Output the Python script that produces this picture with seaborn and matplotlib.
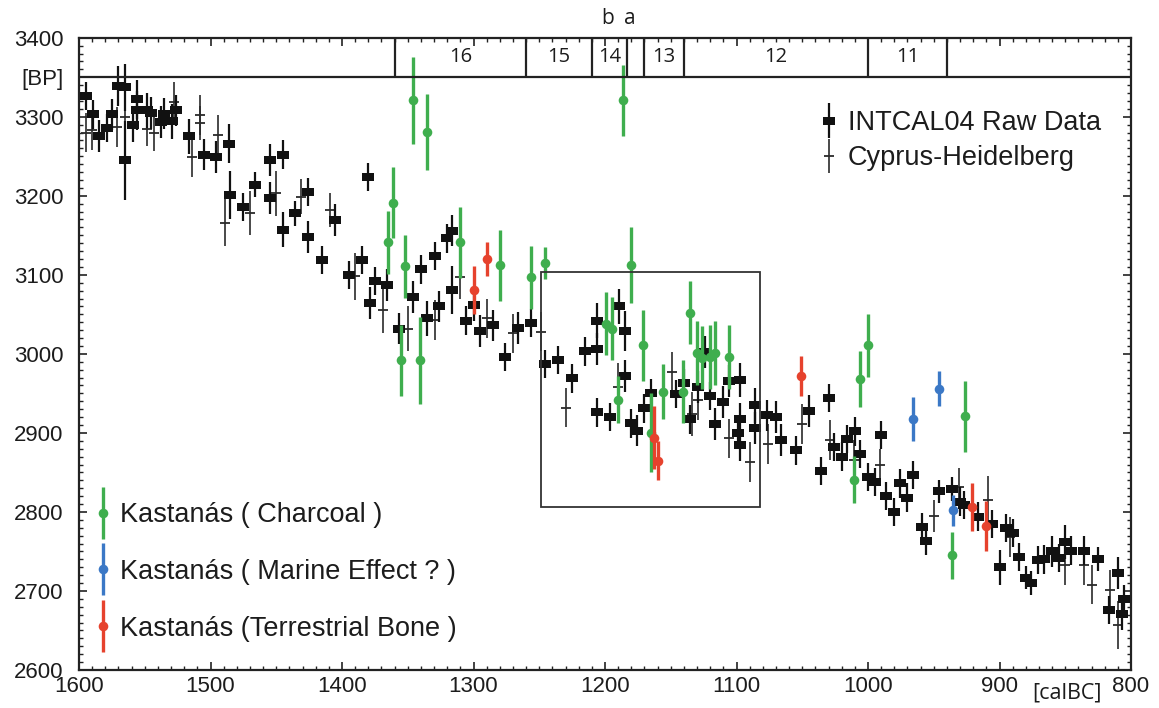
import numpy as np
import pandas as pd
import matplotlib
matplotlib.use("Agg")
import matplotlib.pyplot as plt
import seaborn as sns
from matplotlib.ticker import MultipleLocator, FixedLocator
from matplotlib.legend_handler import HandlerErrorbar, HandlerTuple
from matplotlib.container import ErrorbarContainer
from matplotlib.patches import Rectangle

# ---------------- data ----------------
intcal_year = [1595, 1589, 1585, 1579, 1575, 1570, 1565, 1565, 1559, 1556, 1556, 1548, 1545, 1538, 1535,
               1529, 1526, 1516, 1505, 1496, 1486, 1485, 1475, 1466, 1455, 1455, 1445, 1445, 1436, 1426,
               1426, 1415, 1405, 1395, 1385, 1380, 1379, 1375, 1366, 1357, 1346, 1340, 1335, 1329, 1326,
               1320, 1316, 1316, 1306, 1300, 1295, 1285, 1276, 1266, 1256, 1246, 1236, 1225, 1215, 1206,
               1206, 1206, 1196, 1189, 1185, 1185, 1180, 1176, 1170, 1165, 1146, 1140, 1135, 1129, 1124,
               1120, 1116, 1110, 1106, 1099, 1097, 1097, 1097, 1086, 1086, 1077, 1070, 1066, 1055, 1045,
               1036, 1030, 1026, 1020, 1016, 1010, 1006, 1000, 995, 990, 986, 980, 976, 970, 966,
               959, 956, 946, 936, 930, 927, 916, 906, 900, 895, 890, 885, 880, 876, 871,
               866, 860, 855, 850, 846, 836, 825, 817, 810, 807, 805]
intcal_bp = [3326, 3303, 3276, 3286, 3303, 3339, 3337, 3245, 3290, 3322, 3308, 3308, 3305, 3293, 3304,
             3294, 3308, 3275, 3252, 3249, 3266, 3201, 3186, 3214, 3245, 3197, 3252, 3157, 3178, 3205,
             3148, 3119, 3169, 3100, 3119, 3224, 3064, 3092, 3087, 3032, 3072, 3107, 3045, 3124, 3060,
             3146, 3156, 3081, 3042, 3062, 3029, 3036, 2996, 3033, 3039, 2987, 2992, 2969, 3003, 3006,
             3042, 2926, 2920, 3060, 3029, 2972, 2912, 2903, 2931, 2950, 2949, 2963, 2917, 2958, 3002,
             2947, 2911, 2939, 2966, 2900, 2885, 2918, 2967, 2935, 2906, 2922, 2920, 2891, 2878, 2928,
             2852, 2944, 2882, 2870, 2892, 2902, 2873, 2844, 2838, 2897, 2820, 2800, 2836, 2818, 2847,
             2781, 2763, 2826, 2829, 2813, 2809, 2794, 2785, 2730, 2780, 2773, 2743, 2717, 2710, 2739,
             2740, 2750, 2742, 2762, 2751, 2751, 2740, 2676, 2723, 2671, 2690]
intcal_err = [18, 18, 20, 18, 20, 25, 30, 50, 22, 25, 25, 22, 20, 20, 20,
              22, 20, 22, 20, 20, 25, 30, 18, 16, 20, 20, 18, 22, 16, 18,
              20, 18, 20, 18, 18, 18, 20, 18, 20, 20, 20, 18, 22, 18, 20,
              18, 20, 30, 18, 20, 20, 20, 18, 20, 18, 18, 18, 18, 18, 20,
              22, 18, 18, 22, 25, 20, 18, 20, 18, 18, 18, 18, 18, 20, 20,
              18, 20, 20, 20, 18, 20, 20, 22, 22, 20, 20, 20, 20, 18, 20,
              18, 18, 18, 18, 18, 18, 18, 18, 18, 18, 18, 18, 18, 18, 18,
              18, 18, 15, 15, 18, 18, 18, 18, 22, 18, 18, 18, 15, 15, 18,
              18, 20, 18, 22, 18, 18, 15, 18, 20, 20, 18]

cyprus_year = [1595, 1590, 1571, 1565, 1548, 1543, 1528, 1514, 1508, 1508, 1494, 1489, 1470, 1450, 1431,
               1409, 1390, 1369, 1350, 1329, 1310, 1290, 1270, 1249, 1230, 1190, 1149, 1134, 1129, 1106,
               1090, 1076, 1050, 1029, 1011, 991, 950, 931, 909, 892, 850, 836, 830, 816, 810]
cyprus_bp = [3280, 3283, 3287, 3300, 3285, 3279, 3319, 3249, 3302, 3292, 3277, 3166, 3178, 3203, 3199,
             3182, 3098, 3055, 3032, 3043, 3097, 3045, 3026, 3028, 2932, 2958, 2977, 2924, 2941, 2893,
             2863, 2886, 2911, 2891, 2866, 2859, 2795, 2831, 2815, 2768, 2733, 2733, 2708, 2701, 2657]
cyprus_err = [25, 25, 25, 35, 22, 22, 25, 25, 25, 22, 25, 30, 28, 28, 22,
              22, 30, 28, 28, 25, 28, 25, 25, 25, 25, 30, 25, 28, 25, 25,
              25, 25, 25, 25, 25, 20, 20, 25, 30, 25, 25, 25, 25, 25, 30]

charcoal_year = [1365, 1361, 1355, 1352, 1346, 1341, 1335, 1310, 1280, 1256, 1246, 1199, 1195, 1190, 1186,
                 1180, 1171, 1165, 1156, 1141, 1135, 1130, 1126, 1120, 1116, 1106, 1011, 1006, 1000, 936, 926]
charcoal_bp = [3141, 3191, 2992, 3111, 3321, 2992, 3281, 3141, 3112, 3097, 3115, 3038, 3032, 2942, 3321,
               3112, 3011, 2900, 2952, 2952, 3052, 3001, 2995, 2996, 3001, 2996, 2841, 2968, 3011, 2745, 2921]
charcoal_err = [40, 45, 45, 40, 55, 55, 48, 45, 45, 40, 20, 40, 40, 30, 45,
                48, 45, 50, 35, 40, 40, 40, 40, 40, 40, 40, 30, 35, 40, 30, 45]

marine_year = [966, 946, 935]
marine_bp = [2918, 2956, 2802]
marine_err = [28, 22, 20]

bone_year = [1300, 1290, 1163, 1160, 1051, 921, 910]
bone_bp = [3081, 3120, 2894, 2865, 2972, 2806, 2782]
bone_err = [30, 22, 40, 25, 25, 30, 32]

phase_bounds = [1360, 1260, 1210, 1183, 1170, 1140, 1000, 940]
phase_labels = ["16", "15", "14", "13", "12", "11"]
phase_label_ranges = [(1360, 1260), (1260, 1210), (1210, 1183), (1170, 1140), (1140, 1000), (1000, 940)]
sub_labels = ["b", "a"]
sub_label_years = [1198, 1181]
inset_years = [1249, 1082]
inset_bp = [2806, 3103]

x_ticks = [1600, 1500, 1400, 1300, 1200, 1100, 1000, 900, 800]
y_ticks = [2600, 2700, 2800, 2900, 3000, 3100, 3200, 3300, 3350, 3400]
y_tick_labels = ["2600", "2700", "2800", "2900", "3000", "3100", "3200", "3300", "[BP]", "3400"]

legend_upper = ["INTCAL04 Raw Data", "Cyprus-Heidelberg"]
legend_lower = ["Kastanás ( Charcoal )", "Kastanás ( Marine Effect ? )", "Kastanás (Terrestrial Bone )"]

# ---------------- style ----------------
sns.set_style("ticks")
plt.rcParams["font.family"] = ["Liberation Sans", "DejaVu Sans"]

BLACK = "#111111"
GRAY = "#2a2a2a"
GREEN = "#3fae4e"
BLUE = "#3b78c6"
RED = "#e6422d"
TXT = "#1c1c1c"

fig = plt.figure(figsize=(11.59, 7.08), dpi=100)
ax = fig.add_axes([79 / 1159, 1 - 670 / 708, (1131 - 79) / 1159, (670 - 37.7) / 708])
ax.set_facecolor("white")

rect_marker = [(-1.45, -1.0), (1.45, -1.0), (1.45, 1.0), (-1.45, 1.0), (-1.45, -1.0)]


def draw_series(x, y, err, color, elw, marker, s, z, lw=0.0):
    df = pd.DataFrame({"year": x, "bp": y, "err": err})
    eb = ax.errorbar(df["year"], df["bp"], yerr=df["err"], fmt="none", ecolor=color,
                     elinewidth=elw, capsize=0, zorder=z)
    if marker == "_":
        sns.scatterplot(data=df, x="year", y="bp", ax=ax, marker=marker, s=s, color=color,
                        linewidth=lw, zorder=z + 0.1, legend=False)
    else:
        sns.scatterplot(data=df, x="year", y="bp", ax=ax, marker=marker, s=s, color=color,
                        edgecolor=color, linewidth=lw, zorder=z + 0.1, legend=False)
    sc = ax.collections[-1]
    return (eb, sc)


h_cyprus = draw_series(cyprus_year, cyprus_bp, cyprus_err, GRAY, 1.2, "_", 55, 3, lw=1.3)
h_intcal = draw_series(intcal_year, intcal_bp, intcal_err, BLACK, 1.6, rect_marker, 78, 4)
h_char = draw_series(charcoal_year, charcoal_bp, charcoal_err, GREEN, 2.4, "o", 48, 5)
h_marine = draw_series(marine_year, marine_bp, marine_err, BLUE, 2.4, "o", 48, 6)
h_bone = draw_series(bone_year, bone_bp, bone_err, RED, 2.4, "o", 48, 6)

# axes limits / ticks
ax.set_xlim(1600, 800)
ax.set_ylim(2600, 3400)
ax.xaxis.set_major_locator(FixedLocator(x_ticks))
ax.set_xticklabels([str(t) for t in x_ticks])
ax.xaxis.set_minor_locator(MultipleLocator(10))
ax.yaxis.set_major_locator(FixedLocator(y_ticks))
ax.set_yticklabels(y_tick_labels)
ax.yaxis.set_minor_locator(MultipleLocator(10))
ax.tick_params(which="both", direction="in", top=True, right=True, color="#222222")
ax.tick_params(which="major", length=6, width=1.2, labelsize=16, labelcolor=TXT)
ax.tick_params(which="minor", length=3, width=1.0)
ax.tick_params(axis="y", which="major", pad=11)
ax.tick_params(axis="x", which="major", pad=4)
for sp in ax.spines.values():
    sp.set_linewidth(1.6)
    sp.set_color("#222222")
ax.set_xlabel("")
ax.set_ylabel("")

# phase band
ax.axhline(3350, color="#222222", lw=1.6, zorder=7)
ax.vlines(phase_bounds, 3350, 3400, color="#222222", lw=1.6, zorder=7)
for lab, (a, b) in zip(phase_labels, phase_label_ranges):
    ax.text((a + b) / 2, 3375, lab, ha="center", va="center", fontsize=14.5,
            family=["Open Sans", "DejaVu Sans"], color=TXT)
for lab, yr in zip(sub_labels, sub_label_years):
    ax.text(yr, 1.03, lab, transform=ax.get_xaxis_transform(), ha="center", va="center",
            fontsize=15, family=["Open Sans", "DejaVu Sans"], color=TXT, clip_on=False)

# inset rectangle
ax.add_patch(Rectangle((inset_years[0], inset_bp[0]), inset_years[1] - inset_years[0],
                       inset_bp[1] - inset_bp[0], fill=False, ec="#333333", lw=1.3, zorder=8))

# [calBC] label
ax.text(849, -0.036, "[calBC]", transform=ax.get_xaxis_transform(), ha="center", va="center",
        fontsize=15.5, family=["Open Sans", "DejaVu Sans"], color=TXT, clip_on=False)

# legends
FS = 19.5
hm_upper = {ErrorbarContainer: HandlerErrorbar(yerr_size=0.63), tuple: HandlerTuple(ndivide=1)}
leg1 = ax.legend([h_intcal, h_cyprus], legend_upper, loc="upper left",
                 bbox_to_anchor=((818 - 79) / 1052, (670 - 110) / 632.3), frameon=False,
                 fontsize=FS, handlelength=0.8, handletextpad=0.31, borderpad=0, borderaxespad=0,
                 labelspacing=0.34, scatteryoffsets=[0.5], handler_map=hm_upper)
for t in leg1.get_texts():
    t.set_color(TXT)
ax.add_artist(leg1)

hm_lower = {ErrorbarContainer: HandlerErrorbar(yerr_size=0.96), tuple: HandlerTuple(ndivide=1)}
leg2 = ax.legend([h_char, h_marine, h_bone], legend_lower, loc="upper left",
                 bbox_to_anchor=((92 - 79) / 1052, (670 - 502) / 632.3), frameon=False,
                 fontsize=FS, handlelength=0.8, handletextpad=0.24, borderpad=0, borderaxespad=0,
                 labelspacing=1.14, scatteryoffsets=[0.5], handler_map=hm_lower)
for t in leg2.get_texts():
    t.set_color(TXT)

fig.savefig("out.png", dpi=100, facecolor="white")
